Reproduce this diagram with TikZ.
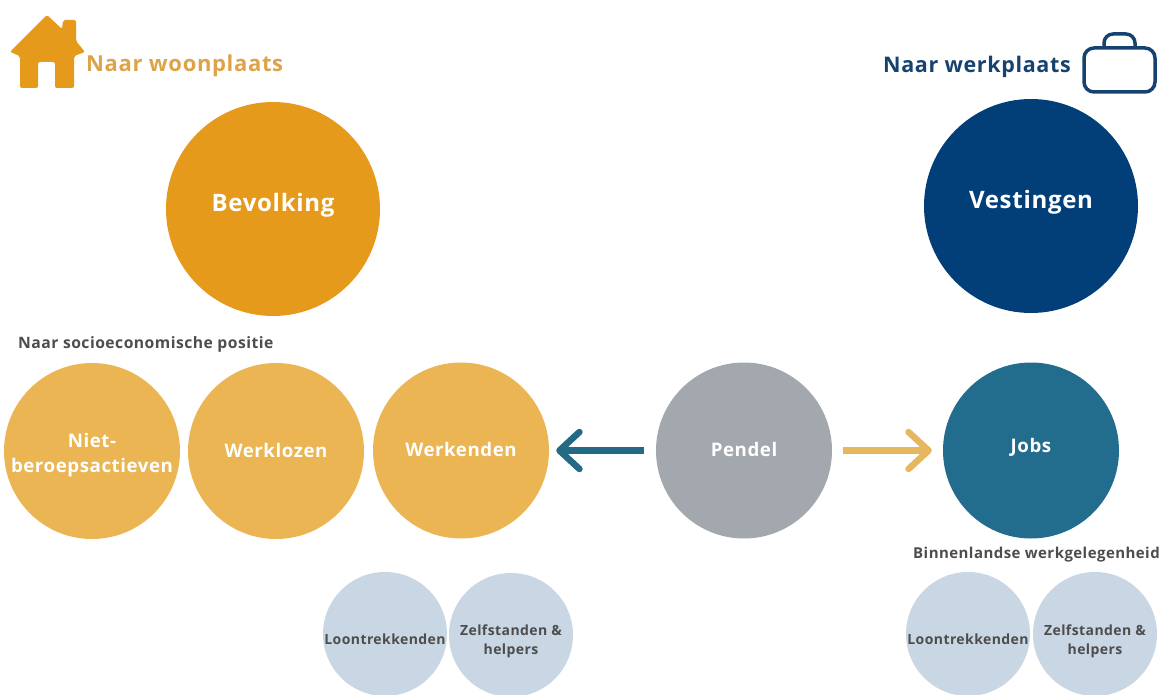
\documentclass[tikz,border=0pt]{standalone}
\usepackage{fontspec}
\setmainfont[LetterSpace=3]{Open Sans}
\usetikzlibrary{arrows.meta}
\definecolor{amberdark}{HTML}{E59A1C}
\definecolor{amberlight}{HTML}{EAB552}
\definecolor{navy}{HTML}{023F78}
\definecolor{teal}{HTML}{226D8E}
\definecolor{grayc}{HTML}{A3A7AE}
\definecolor{palec}{HTML}{C9D6E3}
\definecolor{txtgray}{HTML}{4D4D4D}
\definecolor{headamber}{HTML}{DDA348}
\definecolor{headnavy}{HTML}{16426F}
\definecolor{arrowteal}{HTML}{256A85}
\definecolor{arrowamber}{HTML}{E6B75F}
\newcommand{\shifted}[2]{\raisebox{#1}[0pt][0pt]{#2}}
\newcommand{\twolines}[3]{\raisebox{#1}[0pt][0pt]{\begin{tabular}{@{}c@{}}#2\\#3\end{tabular}}}
\tikzset{
  x=1pt,y=-1pt,
  disc/.style={circle,inner sep=0pt,align=center},
  bigdisc/.style={disc,minimum size=214pt,text=white,font=\bfseries\fontsize{24}{28}\selectfont},
  middisc/.style={disc,minimum size=176pt,text=white,font=\bfseries\fontsize{18.7}{25}\selectfont},
  smalldisc/.style={disc,minimum size=124pt,fill=palec,text=txtgray,font=\bfseries\fontsize{14}{19}\selectfont},
  caption/.style={inner sep=0pt,text=txtgray,font=\bfseries\fontsize{15.2}{18}\selectfont},
  head/.style={inner sep=0pt,font=\bfseries\fontsize{21.5}{24}\selectfont},
  flow/.style={line width=6.5pt,-{Straight Barb[length=20pt,width=37pt,round]}},
}
\begin{document}
\begin{tikzpicture}
\useasboundingbox (0,0) rectangle (1162,695);
% house
\fill[amberdark,rounded corners=2pt] (47,15) -- (62,29) -- (63,20) -- (76,20) -- (76,41) -- (85,52) -- (74,56) -- (74,88) -- (55,88) -- (55,62) -- (38,62) -- (38,88) -- (20,88) -- (20,56) -- (10,52) -- cycle;
% briefcase
\draw[headnavy,line width=3.5pt,rounded corners=10pt] (1084,48) rectangle (1155,92);
\draw[headnavy,line width=3.5pt,rounded corners=9pt] (1104,48) -- (1104,34) -- (1135,34) -- (1135,48);
\node[head,text=headamber,anchor=west,font=\bfseries\fontsize{22}{24}\selectfont] (hl) at (86,66) {Naar woonplaats};
\node[head,text=headnavy,anchor=west] (hr) at (883,67) {Naar werkplaats};
\node[bigdisc,fill=amberdark] (bev) at (273,209) {\shifted{-3pt}{Bevolking}};
\node[bigdisc,fill=navy] (ves) at (1031,206) {\shifted{-3pt}{Vestingen}};
\node[caption,anchor=west,font=\bfseries\fontsize{15.7}{18}\selectfont] (c1) at (18,344) {Naar socioeconomische positie};
\node[caption,anchor=west,font=\bfseries\fontsize{15}{18}\selectfont] (c2) at (913,555) {Binnenlandse werkgelegenheid};
\node[middisc,fill=amberlight] (niet) at (92,451) {\twolines{-8.5pt}{Niet-}{beroepsactieven}};
\node[middisc,fill=amberlight] (wkl) at (276,451) {\shifted{-6pt}{Werklozen}};
\node[middisc,fill=amberlight] (wkd) at (461,450.5) {\shifted{-6pt}{Werkenden}};
\node[middisc,fill=grayc] (pen) at (744,450.5) {\shifted{-6pt}{Pendel}};
\node[middisc,fill=teal] (job) at (1031,450.5) {\shifted{-2pt}{Jobs}};
\node[smalldisc] (l1) at (385,634) {\shifted{-10pt}{Loontrekkenden}};
\node[smalldisc] (z1) at (511,635) {\twolines{-10pt}{Zelfstanden \&}{helpers}};
\node[smalldisc] (l2) at (968,634) {\shifted{-10pt}{Loontrekkenden}};
\node[smalldisc] (z2) at (1095,634) {\twolines{-11pt}{Zelfstanden \&}{helpers}};
\draw[flow,arrowteal,shorten <=12pt,shorten >=7pt] (pen) -- (wkd);
\draw[flow,arrowamber,shorten <=11pt,shorten >=11pt] (pen) -- (job);
\end{tikzpicture}
\end{document}
